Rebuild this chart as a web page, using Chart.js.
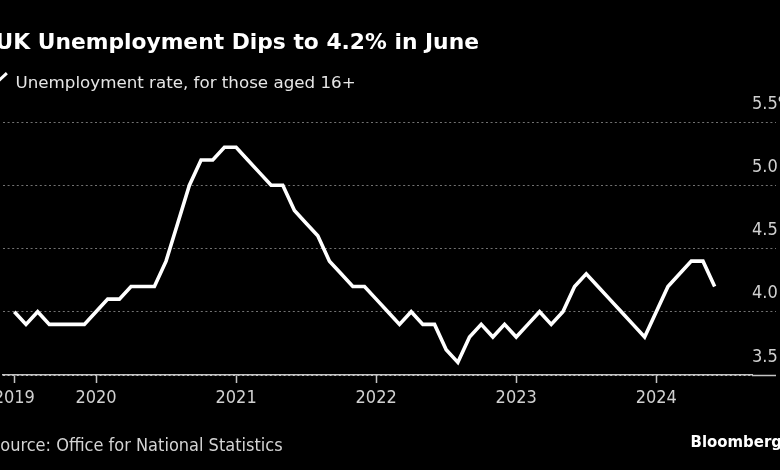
<!DOCTYPE html>
<html>
<head>
<meta charset="utf-8">
<script src="https://cdn.jsdelivr.net/npm/chart.js@4/dist/chart.umd.min.js"></script>
<style>
  html, body { margin: 0; padding: 0; background: #000; overflow: hidden; }
  #wrap { position: relative; width: 780px; height: 470px; overflow: hidden; }
  #c { position: absolute; left: 0; top: 0; }
  .txt { position: absolute; white-space: nowrap; line-height: 1; }
  #title { left: -4.5px; top: 28.6px; font: bold 21.8px "DejaVu Sans", sans-serif; color: #fff; }
  #legend { left: 15.5px; top: 71.8px; font: 16.7px "DejaVu Sans", sans-serif; color: #e6e6e6; }
  #swatch { position: absolute; left: -7px; top: 77px; width: 16px; height: 3px; background: #fff; transform: rotate(-43deg); }
  #source { left: -10px; top: 434px; font: 18px "DejaVu Sans Condensed", "DejaVu Sans", sans-serif; color: #d4d4d4; }
  #brand { left: 690.5px; top: 432px; font: bold 16.6px "DejaVu Sans Condensed", "DejaVu Sans", sans-serif; color: #fff; }
</style>
</head>
<body>
<div id="wrap">
  <canvas id="c" width="780" height="470"></canvas>
  <div id="title" class="txt">UK Unemployment Dips to 4.2% in June</div>
  <div id="swatch"></div>
  <div id="legend" class="txt">Unemployment rate, for those aged 16+</div>
  <div id="source" class="txt">Source: Office for National Statistics</div>
  <div id="brand" class="txt">Bloomberg</div>
</div>
<script>
"use strict";

// monthly readings, Jun 2019 .. Jun 2024
const months = [
  "2019-06", "2019-07", "2019-08", "2019-09", "2019-10", "2019-11", "2019-12",
  "2020-01", "2020-02", "2020-03", "2020-04", "2020-05", "2020-06", "2020-07", "2020-08", "2020-09", "2020-10", "2020-11", "2020-12",
  "2021-01", "2021-02", "2021-03", "2021-04", "2021-05", "2021-06", "2021-07", "2021-08", "2021-09", "2021-10", "2021-11", "2021-12",
  "2022-01", "2022-02", "2022-03", "2022-04", "2022-05", "2022-06", "2022-07", "2022-08", "2022-09", "2022-10", "2022-11", "2022-12",
  "2023-01", "2023-02", "2023-03", "2023-04", "2023-05", "2023-06", "2023-07", "2023-08", "2023-09", "2023-10", "2023-11", "2023-12",
  "2024-01", "2024-02", "2024-03", "2024-04", "2024-05", "2024-06",
];
const rate = [
  4.0, 3.9, 4.0, 3.9, 3.9, 3.9, 3.9,
  4.0, 4.1, 4.1, 4.2, 4.2, 4.2, 4.4, 4.7, 5.0, 5.2, 5.2, 5.3,
  5.3, 5.2, 5.1, 5.0, 5.0, 4.8, 4.7, 4.6, 4.4, 4.3, 4.2, 4.2,
  4.1, 4.0, 3.9, 4.0, 3.9, 3.9, 3.7, 3.6, 3.8, 3.9, 3.8, 3.9,
  3.8, 3.9, 4.0, 3.9, 4.0, 4.2, 4.3, 4.2, 4.1, 4.0, 3.9, 3.8,
  4.0, 4.2, 4.3, 4.4, 4.4, 4.2,
];
const xTickMonths = ["2019-06", "2020-01", "2021-01", "2022-01", "2023-01", "2024-01"];
const xTickLabels = ["2019", "2020", "2021", "2022", "2023", "2024"];
const yTickValues = [3.5, 4.0, 4.5, 5.0, 5.5];
const yTickLabels = ["3.5", "4.0", "4.5", "5.0", "5.5%"];

const FONT = "'DejaVu Sans Condensed', 'DejaVu Sans', sans-serif";
const GRID = "#727272";
const AXIS = "#c4c4c4";

const points = rate.map((v, i) => ({ x: i, y: v }));

const isBase = (ctx) => ctx.tick && ctx.tick.value === 3.5;

new Chart(document.getElementById("c"), {
  type: "line",
  data: {
    datasets: [{
      label: "Unemployment rate, for those aged 16+",
      data: points,
      borderColor: "#fff",
      borderWidth: 3.6,
      pointRadius: 0,
      tension: 0,
      fill: false,
    }],
  },
  options: {
    responsive: false,
    animation: false,
    devicePixelRatio: 1,
    layout: { padding: { top: 122, left: 3, right: 0, bottom: 55 } },
    plugins: { legend: { display: false }, tooltip: { enabled: false } },
    scales: {
      x: {
        type: "linear",
        min: -0.97,
        max: 63.2,
        afterBuildTicks: (s) => {
          s.ticks = xTickMonths.map((m) => ({ value: months.indexOf(m) }));
        },
        afterFit: (s) => {
          s.height = 40;
          s.paddingLeft = 0;
          s.paddingRight = 0;
        },
        ticks: {
          autoSkip: false,
          maxRotation: 0,
          padding: 5,
          color: "#d0d0d0",
          font: { family: FONT, size: 18 },
          callback: (v) => xTickLabels[xTickMonths.indexOf(months[v])],
        },
        grid: { drawOnChartArea: false, drawTicks: true, tickLength: 8, tickColor: AXIS, tickWidth: 1.5 },
        border: { display: true, color: AXIS, width: 1.5 },
      },
      y: {
        position: "right",
        min: 3.5,
        max: 5.5,
        afterBuildTicks: (s) => {
          s.ticks = yTickValues.map((v) => ({ value: v }));
        },
        afterFit: (s) => {
          s.width = 28;
        },
        ticks: {
          crossAlign: "near",
          padding: -24,
          labelOffset: -18,
          color: "#d0d0d0",
          font: { family: FONT, size: 18 },
          callback: (v) => yTickLabels[yTickValues.indexOf(v)],
        },
        grid: {
          color: (ctx) => (isBase(ctx) ? AXIS : GRID),
          lineWidth: 1,
          drawTicks: true,
          tickLength: 24,
          tickColor: (ctx) => (isBase(ctx) ? AXIS : GRID),
          tickWidth: (ctx) => (isBase(ctx) ? 1.5 : 1),
          tickBorderDash: (ctx) => (isBase(ctx) ? [] : [2, 2.6]),
        },
        border: { display: false, dash: [2, 2.6] },
      },
    },
  },
});
</script>
</body>
</html>
